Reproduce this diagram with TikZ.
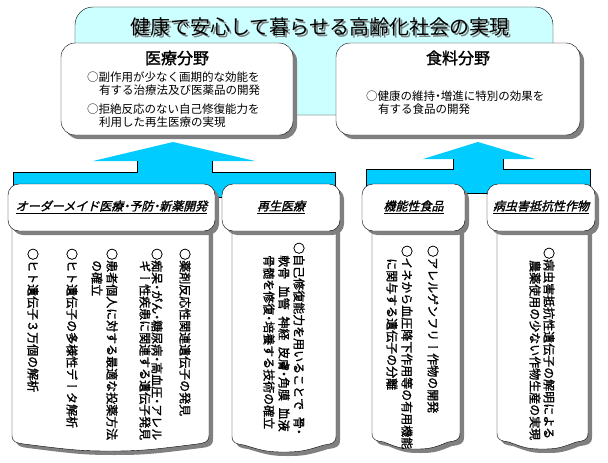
\documentclass[tikz,border=0pt]{standalone}
\usepackage{fontspec}
\usetikzlibrary{shadows}
\newfontfamily\jp{Noto Sans CJK JP}
\newfontfamily\jpb[FakeBold=1.5]{Noto Sans CJK JP}
\newfontfamily\jpbi[FakeBold=1.5,FakeSlant=0.25]{Noto Sans CJK JP}
\newfontfamily\vjp[Vertical=RotatedGlyphs,FakeBold=1.4,RawFeature={+vert}]{Noto Sans CJK JP}
\definecolor{bannerc}{RGB}{204,255,255}
\definecolor{arrowc}{RGB}{0,204,255}
\definecolor{shadowc}{RGB}{128,128,128}
\newcommand\hd{\makebox[0.5em]{・}}
\newcommand\hc{\makebox[0.55em][l]{、}}
\newcommand\colshape[4]{%
  \draw[colst] (#1,#3) -- (#1,{#4-16}) .. controls (#1,{#4-9}) and ({#1+4},{#4-8}) .. ({#1+12},{#4-7})
    .. controls ({#1+0.3*(#2-#1)},{#4-1}) and ({0.5*(#1+#2)-0.15*(#2-#1)},#4) .. ({0.5*(#1+#2)},#4)
    .. controls ({0.5*(#1+#2)+0.15*(#2-#1)},#4) and ({#2-0.3*(#2-#1)},{#4-1}) .. ({#2-12},{#4-7})
    .. controls ({#2-4},{#4-8}) and (#2,{#4-9}) .. (#2,{#4-16}) -- (#2,#3) -- cycle;}
\tikzset{
  shad/.style={drop shadow={shadow xshift=4pt, shadow yshift=-4pt, fill=shadowc, opacity=1}},
  bigbox/.style={draw=black, fill=white, rounded corners=14pt, shad},
  headbox/.style={draw=black, fill=white, rounded corners=11pt, shad},
  colst/.style={draw=black, fill=white, shad},
  arrowfill/.style={fill=arrowc},
  vtext/.style={rotate=-90, anchor=west, inner sep=0pt, font=\vjp\fontsize{12}{12}\selectfont},
  htext/.style={anchor=west, inner sep=0pt, font=\jp\fontsize{11.5}{12}\selectfont},
  fieldtitle/.style={inner sep=0pt, font=\jpb\fontsize{16}{16}\selectfont},
  coltitle/.style={inner sep=0pt, font=\jpbi\fontsize{12}{12}\selectfont}
}
\begin{document}
\begin{tikzpicture}[x=1pt,y=-1pt]
\useasboundingbox (0,0) rectangle (608,463);
% banner
\draw[fill=bannerc, rounded corners=18pt] (75,7) rectangle (553,115);
\node[inner sep=0pt, text=shadowc, font=\jp\fontsize{20}{20}\selectfont] (titleshadow) at (321.5,28.5) {健康で安心して暮らせる高齢化社会の実現};
\node[inner sep=0pt, font=\jp\fontsize{20}{20}\selectfont] (title) at (320,27) {健康で安心して暮らせる高齢化社会の実現};
% field boxes
\draw[bigbox] (61,43) rectangle (293,135);
\draw[bigbox] (336,43) rectangle (580,135);
\node[fieldtitle] (med) at (177,58) {医療分野};
\node[htext] (m1) at (87,77) {○副作用が少なく画期的な効能を};
\node[htext] (m2) at (99,90) {有する治療法及び医薬品の開発};
\node[htext] (m3) at (87,109) {○拒絶反応のない自己修復能力を};
\node[htext] (m4) at (99,122) {利用した再生医療の実現};
\node[fieldtitle] (food) at (458,58) {食料分野};
\node[htext] (f1) at (366,96) {○健康の維持\hd 増進に特別の効果を};
\node[htext] (f2) at (378,109) {有する食品の開発};
% arrows
\fill[arrowfill] (173,142) -- (255,161) -- (212,161) -- (212,172) -- (335,172) -- (335,197) -- (13,197) -- (13,172) -- (137,172) -- (137,161) -- (93,161) -- cycle;
\draw (137,161) -- (137,172) -- (13,172) -- (13,197) -- (335,197) -- (335,172) -- (212,172) -- (212,161);
\fill[arrowfill] (478,142) -- (535,159) -- (503,159) -- (503,169) -- (590,169) -- (590,193) -- (366,193) -- (366,169) -- (453,169) -- (453,159) -- (423,159) -- cycle;
\draw (453,159) -- (453,169) -- (366,169) -- (366,193) -- (590,193) -- (590,169) -- (503,169) -- (503,159);
% columns
\colshape{12}{209}{215}{451}
\colshape{232}{336}{215}{452}
\colshape{372}{460}{215}{449}
\colshape{497}{588}{215}{449}
% column heads
\draw[headbox] (8,184) rectangle (215,231);
\draw[headbox] (222,184) rectangle (340,231);
\draw[headbox] (362,184) rectangle (465,231);
\draw[headbox] (487,184) rectangle (595,231);
\node[coltitle] (h1) at (111.5,207) {\underline{オーダーメイド医療\hd 予防\hd 新薬開発}};
\node[coltitle] (h2) at (281,207) {\underline{再生医療}};
\node[coltitle] (h3) at (413.5,207) {\underline{機能性食品}};
\node[coltitle] (h4) at (541,207) {\underline{病虫害抵抗性作物}};
% vertical texts
\node[vtext] (v11) at (185,248) {○薬剤反応性関連遺伝子の発見};
\node[vtext] (v12a) at (157,248) {○痴呆\hd がん\hd 糖尿病\hd 高血圧\hd アレル};
\node[vtext] (v12b) at (145,260) {ギー性疾患に関連する遺伝子発見};
\node[vtext] (v13a) at (112,248) {○患者個人に対する最適な投薬方法};
\node[vtext] (v13b) at (97,260) {の確立};
\node[vtext] (v14) at (72,248) {○ヒト遺伝子の多様性データ解析};
\node[vtext] (v15) at (33,248) {○ヒト遺伝子３万個の解析};
\node[vtext] (v21a) at (299,242) {○自己修復能力を用いることで\hc 骨\hd};
\node[vtext] (v21b) at (284,255) {軟骨\hc 血管\hc 神経\hc 皮膚\hd 角膜\hc 血液};
\node[vtext] (v21c) at (269,255) {骨髄を修復\hd 培養する技術の確立};
\node[vtext] (v31) at (433,245) {○アレルゲンフリー作物の開発};
\node[vtext] (v32a) at (407,245) {○イネから血圧降下作用等の有用機能};
\node[vtext] (v32b) at (392,258) {に関与する遺伝子の分離};
\node[vtext] (v41a) at (549,247) {○病虫害抵抗性遺伝子の解明による};
\node[vtext] (v41b) at (535,260) {農薬使用の少ない作物生産の実現};
\end{tikzpicture}
\end{document}
